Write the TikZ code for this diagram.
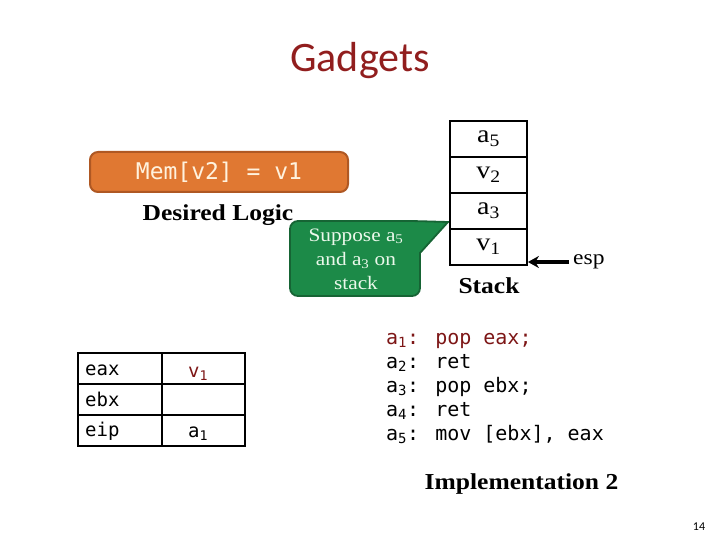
\documentclass[tikz,border=0pt]{standalone}
\usepackage{fontspec}
\setmainfont{Liberation Serif}
\newfontfamily\calibri{Carlito}
\newfontfamily\consol{DejaVu Sans Mono}
\newfontfamily\camb{Liberation Serif}[FakeStretch=1.12]
\usetikzlibrary{arrows.meta}
\definecolor{titlered}{RGB}{145,30,30}
\definecolor{codered}{RGB}{125,22,22}
\definecolor{orfill}{RGB}{224,120,50}
\definecolor{ordraw}{RGB}{175,88,35}
\definecolor{ortext}{RGB}{255,242,222}
\definecolor{grfill}{RGB}{28,138,72}
\definecolor{grdraw}{RGB}{22,100,52}
\definecolor{grtext}{RGB}{235,248,235}
\tikzset{
  cell/.style={draw, line width=1.8pt, minimum width=77, minimum height=36, inner sep=0pt,
    font=\camb\fontsize{25}{29}\selectfont},
  boldlbl/.style={anchor=base, font=\camb\bfseries\fontsize{22.8}{27}\selectfont},
  reg/.style={anchor=base west, font=\consol\fontsize{19}{22}\selectfont, inner sep=0pt},
  codeline/.style={anchor=base west, font=\consol\fontsize{20}{24}\selectfont, inner sep=0pt},
}
\begin{document}
\begin{tikzpicture}[x=1pt,y=-1pt]
\useasboundingbox (0,0) rectangle (720,540);
% title
\node[anchor=base, text=titlered, font=\calibri\fontsize{42}{50}\selectfont] (title) at (360,72) {Gadgets};
% desired logic
\node[draw=ordraw, fill=orfill, line width=2pt, rounded corners=8pt, minimum width=258, minimum height=40,
  inner sep=0pt, text=ortext, font=\consol\fontsize{23}{27}\selectfont] (logic) at (219,172) {Mem[v2] = v1};
\node[boldlbl] (dl) at (218,221) {Desired Logic};
% callout
\draw[draw=grdraw, fill=grfill, line width=1.8pt, rounded corners=8pt]
  (290,258) |- (413,221) [sharp corners] -- (448,222) -- (420,253) [rounded corners=8pt] |- (290,296) -- cycle;
\node[align=center, text=grtext, font=\camb\fontsize{19}{24}\selectfont] (sup) at (356,259)
  {Suppose a\textsubscript{5}\\and a\textsubscript{3} on\\stack};
% stack
\node[cell] (s1) at (488.5,139) {a\textsubscript{5}};
\node[cell] (s2) at (488.5,175) {v\textsubscript{2}};
\node[cell] (s3) at (488.5,211) {a\textsubscript{3}};
\node[cell] (s4) at (488.5,247) {v\textsubscript{1}};
\node[boldlbl] (stk) at (489,293) {Stack};
\node[anchor=west, inner sep=4pt, font=\camb\fontsize{21}{24}\selectfont] (esp) at (569,262) {esp};
\draw[line width=3.2pt, -{Stealth[length=11pt,width=12pt]}] (esp.west) -- (esp.west -| s4.east);
% registers
\draw[line width=1.8pt] (78,353) rectangle (245,446);
\draw[line width=1.8pt] (162,353) -- (162,446) (78,384) -- (245,384) (78,415) -- (245,415);
\node[reg] (rax) at (85,375) {eax};
\node[reg] (rbx) at (85,406) {ebx};
\node[reg] (rip) at (85,436) {eip};
\node[reg, text=codered] (vax) at (188,377) {v\textsubscript{1}};
\node[reg] (vip) at (188,437) {a\textsubscript{1}};
% code
\node[codeline, text=codered] (c1) at (386,344) {a\textsubscript{1}: pop eax;};
\node[codeline] (c2) at (386,368) {a\textsubscript{2}: ret};
\node[codeline] (c3) at (386,392) {a\textsubscript{3}: pop ebx;};
\node[codeline] (c4) at (386,416) {a\textsubscript{4}: ret};
\node[codeline] (c5) at (386,440) {a\textsubscript{5}: mov [ebx], eax};
\node[boldlbl] (impl) at (521.5,489) {Implementation 2};
% page number
\node[anchor=base, font=\calibri\fontsize{12}{14}\selectfont] (pg) at (699,530) {14};
\end{tikzpicture}
\end{document}
